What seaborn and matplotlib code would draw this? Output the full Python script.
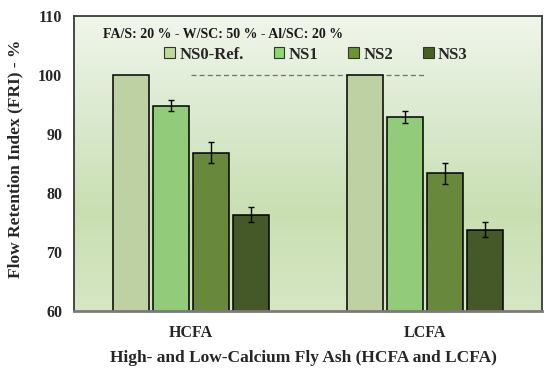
import numpy as np
import pandas as pd
import matplotlib
matplotlib.use("Agg")
import matplotlib.pyplot as plt
import seaborn as sns
from matplotlib.patches import Patch
from matplotlib.colors import LinearSegmentedColormap

# ---- data ----
categories = ["HCFA", "LCFA"]
series = ["NS0-Ref.", "NS1", "NS2", "NS3"]
values_hcfa = [100.0, 94.8, 86.8, 76.3]
values_lcfa = [100.0, 92.9, 83.3, 73.8]
errors_hcfa = [0.0, 1.0, 1.8, 1.3]
errors_lcfa = [0.0, 1.0, 1.8, 1.25]
colors = ["#bfd99b", "#8cd96b", "#6a952f", "#45611f"]
yticks = [60, 70, 80, 90, 100, 110]
annotation = "FA/S: 20 % - W/SC: 50 % - Al/SC: 20 %"

sns.set_theme(style="white")
plt.rcParams["font.family"] = ["Liberation Serif", "DejaVu Serif"]
plt.rcParams["font.weight"] = "bold"

rows = []
for cat, vals, errs in [("HCFA", values_hcfa, errors_hcfa), ("LCFA", values_lcfa, errors_lcfa)]:
    for s, v, e in zip(series, vals, errs):
        rows.append({"cat": cat, "series": s, "value": v, "err": e})
df = pd.DataFrame(rows)

fig = plt.figure(figsize=(5.5, 3.85), dpi=100)
ax = fig.add_axes([0.1345, 0.192, 0.851, 0.767])

# gradient background
grad = np.linspace(0, 1, 256).reshape(-1, 1)
cmap = LinearSegmentedColormap.from_list("bg", ["#f1f6eb", "#dbead0", "#c9dfb2", "#d6e7c4"])
ax.imshow(grad, extent=[0, 1, 0, 1], transform=ax.transAxes, aspect="auto",
          cmap=cmap, zorder=0, origin="upper")

sns.barplot(data=df, x="cat", y="value", hue="series", order=categories,
            hue_order=series, palette=colors, width=0.68, gap=0.09,
            edgecolor="black", linewidth=1.1, errorbar=None, legend=False,
            ax=ax, zorder=2)

# error bars at bar centers
for cont, s in zip(ax.containers, series):
    sub = df[df["series"] == s].set_index("cat").loc[categories]
    xs = [p.get_x() + p.get_width() / 2 for p in cont.patches]
    if sub["err"].max() > 0:
        ax.errorbar(xs, sub["value"], yerr=sub["err"], fmt="none", ecolor="black",
                    elinewidth=1.0, capsize=2.5, capthick=1.0, zorder=3)

ax.plot([0, 1], [100, 100], linestyle=(0, (4, 2.5)), color="#707070", lw=0.9, zorder=1.5)

ax.set_xlim(-0.5, 1.5)
ax.set_ylim(60, 110)
ax.set_yticks(yticks)
ax.set_yticklabels([str(t) for t in yticks], fontsize=11.5, fontweight="bold")
ax.tick_params(axis="y", length=0, pad=8.5)
ax.tick_params(axis="x", length=0, pad=10, labelsize=11.5)
for lbl in ax.get_xticklabels():
    lbl.set_fontweight("bold")

ax.set_xlabel("High- and Low-Calcium Fly Ash (HCFA and LCFA)", fontsize=12.5,
              fontweight="bold")
ax.xaxis.set_label_coords(0.49, -0.132)
ax.set_ylabel("Flow Retention Index (FRI) - %", fontsize=12.5, fontweight="bold")
ax.yaxis.set_label_coords(-0.108, 0.516)

for side in ["left", "top", "right"]:
    ax.spines[side].set_color("#3a3a3a")
    ax.spines[side].set_linewidth(1.3)
ax.spines["bottom"].set_color("#7a7a7a")
ax.spines["bottom"].set_linewidth(2.0)

ax.text(0.062, 0.938, annotation, transform=ax.transAxes, fontsize=10,
        fontweight="bold", va="center", ha="left", color="#1a1a1a")

handles = [Patch(facecolor=c, edgecolor="#333333", linewidth=0.8, label=s)
           for c, s in zip(colors, series)]
ax.legend(handles=handles, ncol=4, loc="center", bbox_to_anchor=(0.517, 0.868),
          frameon=False, handlelength=0.65, handleheight=0.65, handletextpad=0.25,
          columnspacing=1.8, prop={"family": "Liberation Serif", "weight": "bold", "size": 12})

fig.savefig("out.png", dpi=100)
